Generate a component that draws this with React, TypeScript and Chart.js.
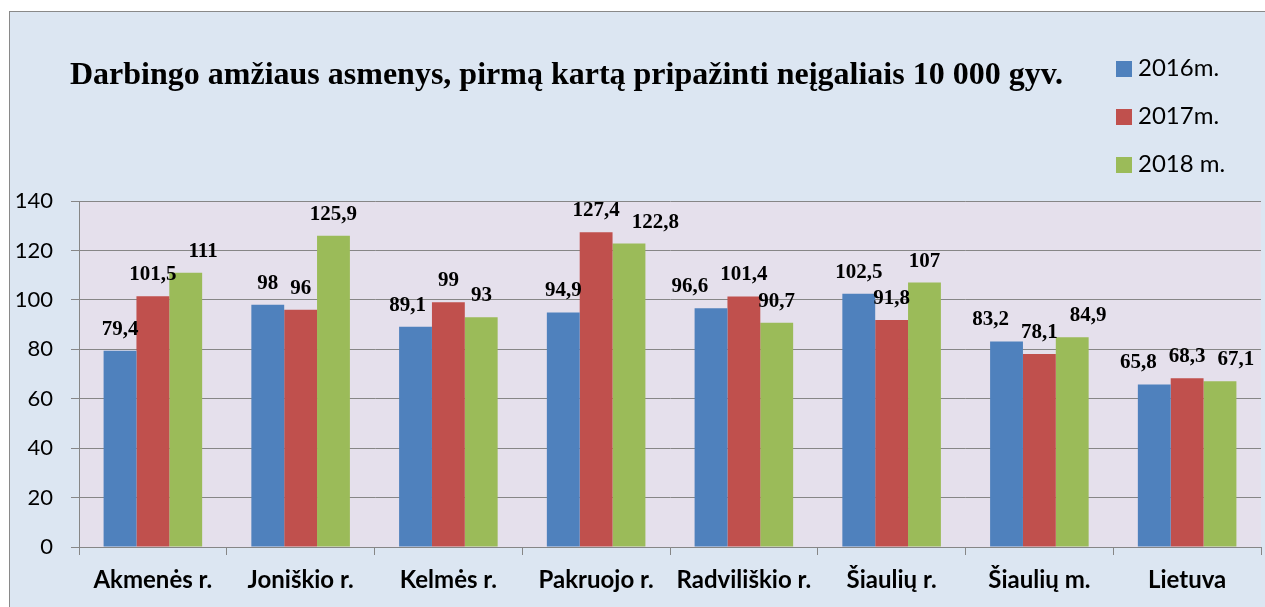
import React, { useEffect, useRef } from 'react';
import { Chart, registerables } from 'chart.js';

Chart.register(...registerables);

const chartTitle = 'Darbingo amžiaus asmenys, pirmą kartą pripažinti neįgaliais 10 000 gyv.';
const categories = ['Akmenės r.', 'Joniškio r.', 'Kelmės r.', 'Pakruojo r.', 'Radviliškio r.', 'Šiaulių r.', 'Šiaulių m.', 'Lietuva'];
const seriesNames = ['2016m.', '2017m.', '2018 m.'];
const values2016 = [79.4, 98, 89.1, 94.9, 96.6, 102.5, 83.2, 65.8];
const values2017 = [101.5, 96, 99, 127.4, 101.4, 91.8, 78.1, 68.3];
const values2018 = [111, 125.9, 93, 122.8, 90.7, 107, 84.9, 67.1];
const yTicks = [0, 20, 40, 60, 80, 100, 120, 140];

const seriesColors = ['#4f81bd', '#c0504d', '#9bbb59'];
const SANS = "Lato, 'Open Sans', sans-serif";
const SERIF = "'Liberation Serif', 'Times New Roman', serif";
const GRID = '#868686';

const fmt = (v: number) => String(v).replace('.', ',');

const plotBgPlugin = {
  id: 'plotBg',
  beforeDraw(chart: any) {
    const { ctx, chartArea: a } = chart;
    ctx.save();
    ctx.fillStyle = '#e5e0ec';
    ctx.fillRect(a.left, a.top, a.right - a.left, a.bottom - a.top);
    ctx.restore();
  },
};

const titleLegendPlugin = {
  id: 'titleLegend',
  afterDraw(chart: any) {
    const ctx = chart.ctx;
    ctx.save();
    ctx.fillStyle = '#000';
    ctx.font = `bold 32px ${SERIF}`;
    ctx.textAlign = 'left';
    ctx.textBaseline = 'alphabetic';
    ctx.fillText(chartTitle, 60, 72);
    ctx.font = `24px ${SANS}`;
    chart.data.datasets.forEach((ds: any, i: number) => {
      const top = 49 + i * 48;
      ctx.fillStyle = ds.backgroundColor;
      ctx.fillRect(1106, top, 16, 16);
      ctx.fillStyle = '#000';
      ctx.fillText(ds.label, 1128, top + 15);
    });
    ctx.restore();
  },
};

const dataLabelPlugin = {
  id: 'dataLabels',
  afterDatasetsDraw(chart: any) {
    const ctx = chart.ctx;
    ctx.save();
    ctx.font = `bold 21px ${SERIF}`;
    ctx.fillStyle = '#000';
    ctx.textAlign = 'center';
    ctx.textBaseline = 'alphabetic';
    const n = chart.data.labels.length;
    const nds = chart.data.datasets.length;
    for (let j = 0; j < n; j++) {
      const items: any[] = [];
      for (let i = 0; i < nds; i++) {
        const bar = chart.getDatasetMeta(i).data[j];
        const text = fmt(chart.data.datasets[i].data[j]);
        items.push({ x: bar.x, y: bar.y - 16, w: ctx.measureText(text).width, text });
      }
      const mid = items[1];
      const resolve = (o: any, dir: number) => {
        if (Math.abs(o.y - mid.y) < 26) {
          const req = (o.w + mid.w) / 2 + 12;
          if (Math.abs(o.x - mid.x) < req) o.x = mid.x + dir * req;
        }
      };
      resolve(items[0], -1);
      resolve(items[2], 1);
      items.forEach((it) => ctx.fillText(it.text, it.x, it.y));
    }
    ctx.restore();
  },
};

export default function App() {
  const ref = useRef<HTMLCanvasElement | null>(null);
  useEffect(() => {
    if (!ref.current) return;
    const chart = new Chart(ref.current, {
      type: 'bar',
      data: {
        labels: categories,
        datasets: [values2016, values2017, values2018].map((d, i) => ({
          label: seriesNames[i],
          data: d,
          backgroundColor: seriesColors[i],
          categoryPercentage: 0.667,
          barPercentage: 1,
        })),
      },
      options: {
        animation: false,
        responsive: false,
        layout: { padding: { top: 189, right: 4, left: 0, bottom: 0 } },
        plugins: { legend: { display: false }, title: { display: false }, tooltip: { enabled: false } },
        scales: {
          x: {
            offset: true,
            grid: { display: true, drawOnChartArea: false, drawTicks: true, tickLength: 8, color: GRID, offset: true },
            border: { display: true, color: GRID, width: 1 },
            ticks: { color: '#000', font: { family: SANS, size: 24, weight: 'bold' }, padding: 11, maxRotation: 0, autoSkip: false },
            afterFit: (s: any) => { s.height = 60; },
          },
          y: {
            min: 0,
            max: 140,
            afterBuildTicks: (s: any) => { s.ticks = yTicks.map((v) => ({ value: v })); },
            grid: { color: GRID, lineWidth: 1, tickLength: 8, drawTicks: true },
            border: { display: true, color: GRID, width: 1 },
            ticks: { color: '#000', font: { family: SANS, size: 22 }, padding: 18 },
            afterFit: (s: any) => { s.width = 69; },
          },
        },
      },
      plugins: [plotBgPlugin, titleLegendPlugin, dataLabelPlugin],
    } as any);
    return () => chart.destroy();
  }, []);
  return (
    <div
      style={{
        position: 'absolute',
        left: 9,
        top: 11,
        width: 1256,
        height: 596,
        boxSizing: 'border-box',
        borderLeft: '1px solid #898989',
        borderTop: '1px solid #898989',
        background: '#dce6f2',
        overflow: 'hidden',
      }}
    >
      <canvas ref={ref} width={1255} height={595} style={{ display: 'block' }} />
    </div>
  );
}
